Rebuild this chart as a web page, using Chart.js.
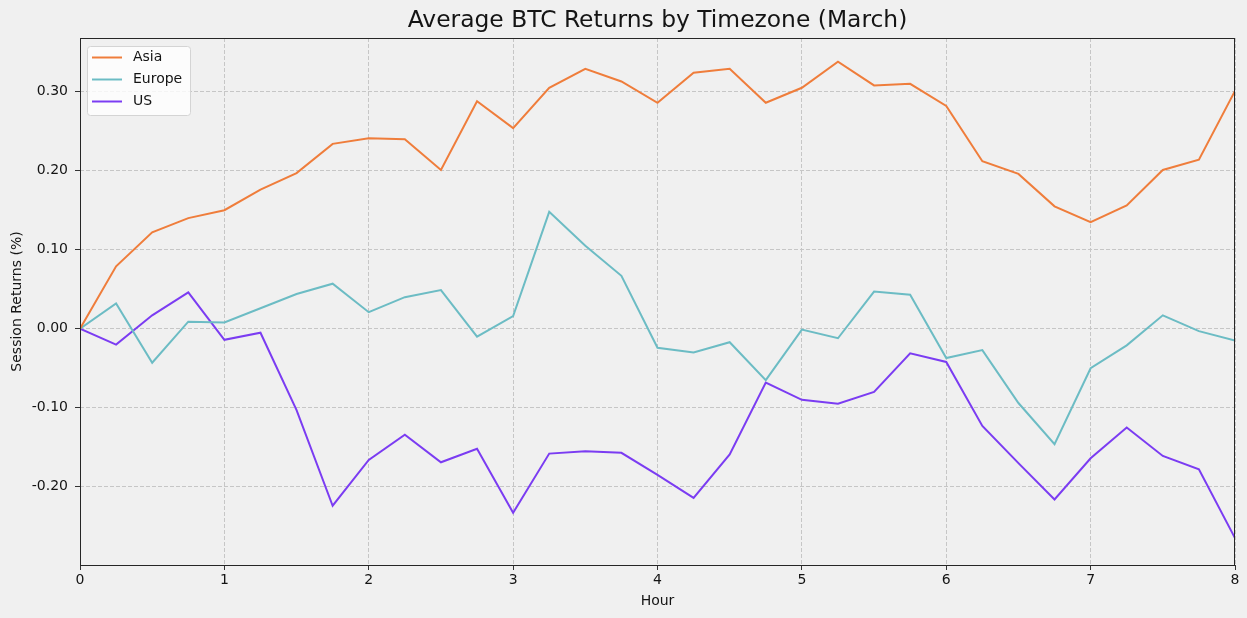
<!DOCTYPE html>
<html>
<head>
<meta charset="utf-8">
<script src="https://cdn.jsdelivr.net/npm/chart.js@4/dist/chart.umd.min.js"></script>
<style>
    html, body { margin: 0; padding: 0; background: #f0f0f0; }
    #wrap { width: 1247px; height: 618px; }
</style>
</head>
<body>
<div id="wrap"><canvas id="btcChart" width="1247" height="618"></canvas></div>
<script>
// Hours since session open (x values)
const hours = [0, 0.25, 0.5, 0.75, 1, 1.25, 1.5, 1.75, 2, 2.25, 2.5, 2.75, 3, 3.25, 3.5, 3.75,
    4, 4.25, 4.5, 4.75, 5, 5.25, 5.5, 5.75, 6, 6.25, 6.5, 6.75, 7, 7.25, 7.5, 7.75, 8];

// Average session returns (%) per timezone
const asia = [0, 0.079, 0.122, 0.140, 0.150, 0.176, 0.197, 0.234, 0.241, 0.240, 0.201, 0.288,
    0.254, 0.305, 0.329, 0.313, 0.286, 0.324, 0.329, 0.286, 0.305, 0.338, 0.308, 0.310,
    0.282, 0.212, 0.196, 0.155, 0.135, 0.156, 0.201, 0.214, 0.301];
const europe = [0, 0.032, -0.043, 0.009, 0.008, 0.026, 0.044, 0.057, 0.021, 0.040, 0.049, -0.010,
    0.016, 0.148, 0.105, 0.067, -0.024, -0.030, -0.017, -0.065, -0.001, -0.012, 0.047, 0.043,
    -0.037, -0.027, -0.094, -0.146, -0.050, -0.021, 0.017, -0.003, -0.015];
const us = [0, -0.020, 0.017, 0.046, -0.014, -0.005, -0.103, -0.224, -0.166, -0.134, -0.169, -0.152,
    -0.233, -0.158, -0.155, -0.157, -0.185, -0.214, -0.159, -0.068, -0.090, -0.095, -0.080, -0.031,
    -0.042, -0.123, -0.170, -0.216, -0.164, -0.125, -0.161, -0.178, -0.265];

const seriesNames = ['Asia', 'Europe', 'US'];
const seriesColors = ['#ef7d3b', '#6cbcc4', '#7b3cf2'];

// Axis ticks
const xTicks = [0, 1, 2, 3, 4, 5, 6, 7, 8];
const yTicks = [-0.2, -0.1, 0, 0.1, 0.2, 0.3];

const chartTitle = 'Average BTC Returns by Timezone (March)';

const FONT = 'DejaVu Sans, sans-serif';
const TEXT = '#141414';

const toPoints = vals => vals.map((v, i) => ({ x: hours[i], y: v }));

// matplotlib-style frame, title over the axes and legend inside them
const frameAndLegend = {
    id: 'frameAndLegend',
    afterDraw(chart) {
        const { ctx, chartArea: a } = chart;
        ctx.save();
        ctx.strokeStyle = '#262626';
        ctx.lineWidth = 1;
        ctx.strokeRect(a.left + 0.5, a.top + 0.5, a.right - a.left - 1, a.bottom - a.top);

        // title centred on the plot area
        ctx.font = '23.4px ' + FONT;
        ctx.fillStyle = TEXT;
        ctx.textAlign = 'center';
        ctx.textBaseline = 'middle';
        ctx.fillText(chartTitle, (a.left + a.right) / 2, 21);

        // legend box
        const bx = 87, by = 46, bw = 103, bh = 69;
        ctx.beginPath();
        ctx.roundRect(bx + 0.5, by + 0.5, bw, bh, 3);
        ctx.fillStyle = 'rgba(255,255,255,0.8)';
        ctx.fill();
        ctx.strokeStyle = '#d4d4d4';
        ctx.stroke();

        ctx.font = '14px ' + FONT;
        ctx.textAlign = 'left';
        ctx.fillStyle = TEXT;
        chart.data.datasets.forEach((ds, i) => {
            const y = 57.5 + i * 22;
            ctx.beginPath();
            ctx.moveTo(92, y);
            ctx.lineTo(122, y);
            ctx.strokeStyle = ds.borderColor;
            ctx.lineWidth = 2;
            ctx.stroke();
            ctx.fillText(ds.label, 133, y);
        });
        ctx.restore();
    }
};

const gridOpts = {
    color: '#c6c6c6',
    tickLength: 5,
    tickColor: '#333',
    tickBorderDash: [],
    tickWidth: 1
};

new Chart(document.getElementById('btcChart'), {
    type: 'line',
    data: {
        datasets: [asia, europe, us].map((vals, i) => ({
            label: seriesNames[i],
            data: toPoints(vals),
            borderColor: seriesColors[i],
            backgroundColor: seriesColors[i],
            borderWidth: 2,
            pointRadius: 0,
            tension: 0,
            fill: false
        }))
    },
    options: {
        responsive: false,
        animation: false,
        layout: { padding: { left: 0, right: 12, top: 38, bottom: 0 } },
        plugins: {
            legend: { display: false },
            tooltip: { enabled: false },
            title: { display: false }
        },
        scales: {
            x: {
                type: 'linear',
                min: 0,
                max: 8,
                afterBuildTicks: s => { s.ticks = xTicks.map(v => ({ value: v })); },
                afterFit: s => { s.height = 53; },
                ticks: {
                    color: TEXT,
                    font: { family: FONT, size: 14 },
                    padding: 2,
                    maxRotation: 0,
                    callback: v => String(v)
                },
                grid: gridOpts,
                border: { display: false, dash: [4, 2] },
                title: {
                    display: true,
                    text: 'Hour',
                    color: TEXT,
                    font: { family: FONT, size: 14 },
                    padding: { top: 0, bottom: 8 }
                }
            },
            y: {
                type: 'linear',
                min: -0.299,
                max: 0.368,
                afterBuildTicks: s => { s.ticks = yTicks.map(v => ({ value: v })); },
                afterFit: s => { s.width = 80; },
                ticks: {
                    color: TEXT,
                    font: { family: FONT, size: 14 },
                    padding: 7,
                    callback: v => v.toFixed(2)
                },
                grid: gridOpts,
                border: { display: false, dash: [4, 2] },
                title: {
                    display: true,
                    text: 'Session Returns (%)',
                    color: TEXT,
                    font: { family: FONT, size: 14 },
                    padding: { top: 9, bottom: 0 }
                }
            }
        }
    },
    plugins: [frameAndLegend]
});
</script>
</body>
</html>
